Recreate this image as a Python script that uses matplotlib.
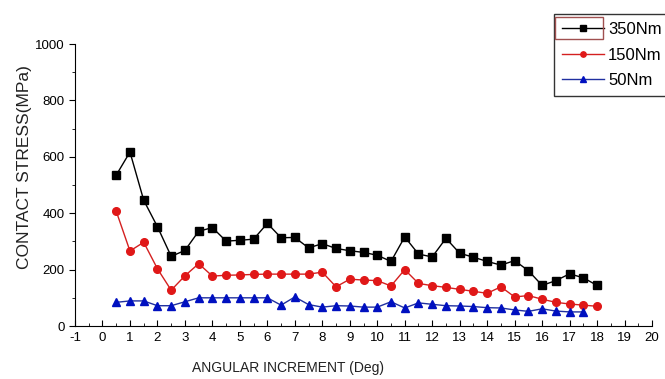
import matplotlib
matplotlib.use("Agg")
import matplotlib.pyplot as plt
from matplotlib.ticker import MultipleLocator
from matplotlib.patches import Rectangle

plt.rcParams['font.family'] = ['Liberation Sans', 'DejaVu Sans']
plt.rcParams['axes.unicode_minus'] = False

# angular increment (deg)
angle = [0.5, 1, 1.5, 2, 2.5, 3, 3.5, 4, 4.5, 5, 5.5, 6, 6.5, 7, 7.5, 8, 8.5, 9,
         9.5, 10, 10.5, 11, 11.5, 12, 12.5, 13, 13.5, 14, 14.5, 15, 15.5, 16, 16.5, 17,
         17.5, 18]

stress_350 = [535, 617, 446, 352, 247, 268, 336, 349, 301, 304, 308, 364, 313, 314,
              277, 292, 275, 267, 261, 251, 229, 316, 255, 245, 311, 258, 244, 229,
              216, 232, 196, 144, 161, 185, 171, 144]
stress_150 = [407, 266, 297, 203, 127, 178, 221, 177, 180, 181, 183, 184, 184, 184,
              184, 191, 139, 166, 163, 161, 142, 200, 151, 143, 137, 130, 123, 116,
              139, 103, 108, 95, 84, 78, 74, 70]
stress_50 = [84, 89, 89, 72, 72, 86, 100, 100, 100, 100, 100, 100, 74, 103,
             76, 67, 72, 71, 67, 67, 86, 64, 82, 77, 72, 71, 69, 65,
             64, 57, 52, 61, 53, 50, 50]

fig = plt.figure(figsize=(6.65, 3.79), dpi=100)
ax = fig.add_axes([0.1128, 0.1398, 0.8677, 0.7441])

l1, = ax.plot(angle, stress_350, color='black', lw=1, marker='s', ms=5.5,
              mfc='black', mec='black', label='350Nm')
l2, = ax.plot(angle, stress_150, color='#d42020', lw=1, marker='o', ms=5.5,
              mfc='#e01818', mec='#e01818', label='150Nm')
l3, = ax.plot(angle[:len(stress_50)], stress_50, color='#2030a0', lw=1, marker='^', ms=5.5,
              mfc='#0010c0', mec='#0010c0', label='50Nm')

ax.set_xlim(-1, 20)
ax.set_ylim(0, 1000)
ax.xaxis.set_major_locator(MultipleLocator(1))
ax.xaxis.set_minor_locator(MultipleLocator(0.5))
ax.yaxis.set_major_locator(MultipleLocator(200))
ax.yaxis.set_minor_locator(MultipleLocator(100))
ax.tick_params(axis='x', which='both', direction='in', labelsize=9.5, pad=4)
ax.tick_params(axis='x', which='major', length=4)
ax.tick_params(axis='x', which='minor', length=2.5)
ax.tick_params(axis='y', which='both', direction='out', labelsize=9.5)
ax.tick_params(axis='y', which='major', length=4)
ax.tick_params(axis='y', which='minor', length=2.5)
for s in ['top', 'right']:
    ax.spines[s].set_visible(False)

ax.set_xlabel('ANGULAR INCREMENT (Deg)', fontsize=10, color='#222222')
ax.set_ylabel('CONTACT STRESS(MPa)', fontsize=12.5, color='#222222')
ax.xaxis.set_label_coords(0.369, -0.125)
ax.yaxis.set_label_coords(-0.074, 0.564)

leg = fig.legend(handles=[l1, l2, l3], loc='upper left',
                 bbox_to_anchor=(554 / 665, 1 - 14 / 379), fontsize=12,
                 frameon=True, fancybox=False, edgecolor='black',
                 handlelength=2.5, handletextpad=0.25, borderpad=0.5,
                 borderaxespad=0, labelspacing=0.62, markerscale=0.7)
leg.get_frame().set_linewidth(1)

fig.add_artist(Rectangle((555 / 665, 1 - 39 / 379), 48 / 665, 22 / 379,
                         transform=fig.transFigure, fill=False,
                         edgecolor='#a05050', lw=1, zorder=10))

fig.savefig('out.png', dpi=100)
